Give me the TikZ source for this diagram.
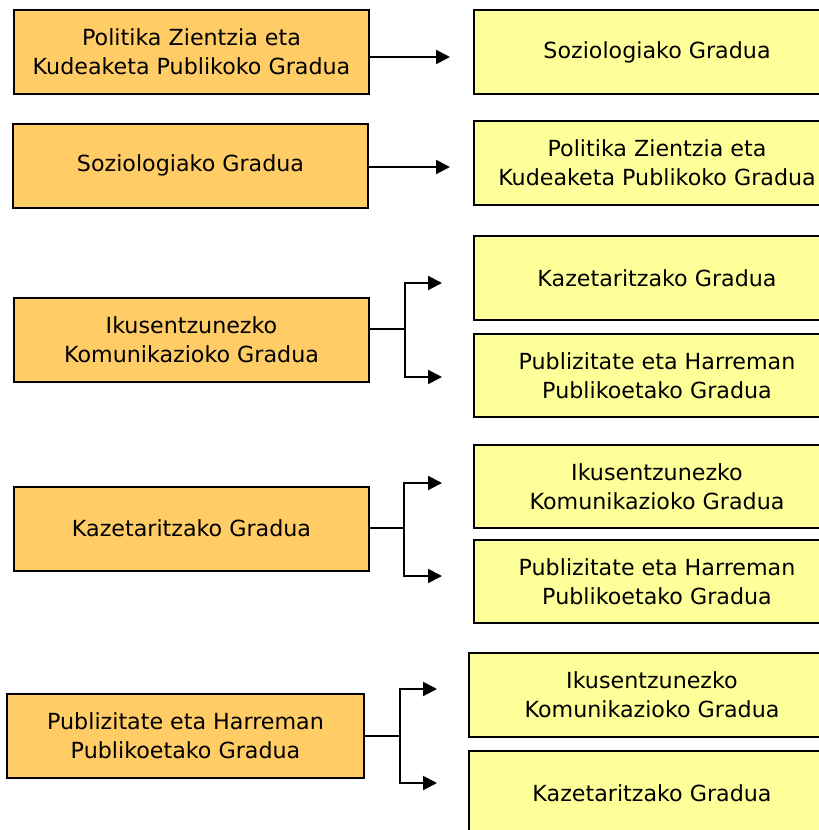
\documentclass[tikz,border=0pt]{standalone}
\usepackage{fontspec}
\setmainfont{DejaVu Sans}
\usetikzlibrary{arrows.meta}
\definecolor{orangebox}{HTML}{FFCC66}
\definecolor{yellowbox}{HTML}{FFFF99}
\tikzset{
  lbox/.style={draw=black, line width=1pt, fill=orangebox, minimum width=177.5pt, minimum height=42pt, align=center, inner sep=0pt, font=\fontsize{11.1}{14.5}\selectfont},
  rbox/.style={draw=black, line width=1pt, fill=yellowbox, minimum width=183pt, minimum height=42pt, align=center, inner sep=0pt, font=\fontsize{11.1}{14.5}\selectfont},
  conn/.style={line width=1pt, -{Triangle[length=7pt,width=7pt]}},
  stem/.style={line width=1pt}
}
\begin{document}
\begin{tikzpicture}[x=0.5pt,y=-0.5pt]
\useasboundingbox (0,0) rectangle (819,830);
\clip (0,0) rectangle (819,830);
% left boxes
\node[lbox] (L1) at (191.5,52) {Politika Zientzia eta\\Kudeaketa Publikoko Gradua};
\node[lbox] (L2) at (190.5,165.5) {Soziologiako Gradua};
\node[lbox] (L3) at (191.5,339.5) {Ikusentzunezko\\Komunikazioko Gradua};
\node[lbox] (L4) at (191.5,528.5) {Kazetaritzako Gradua};
\node[lbox, minimum width=178.5pt] (L5) at (185.5,736) {Publizitate eta Harreman\\Publikoetako Gradua};
% right boxes
\node[rbox] (R1) at (657,52) {Soziologiako Gradua};
\node[rbox] (R2) at (657,162.5) {Politika Zientzia eta\\Kudeaketa Publikoko Gradua};
\node[rbox] (R3) at (657,278) {Kazetaritzako Gradua};
\node[rbox, minimum height=41.5pt] (R4) at (657,375.5) {Publizitate eta Harreman\\Publikoetako Gradua};
\node[rbox, minimum height=41.5pt] (R5) at (657,486.5) {Ikusentzunezko\\Komunikazioko Gradua};
\node[rbox, minimum height=41.5pt] (R6) at (657,581.5) {Publizitate eta Harreman\\Publikoetako Gradua};
\node[rbox] (R7) at (652,695) {Ikusentzunezko\\Komunikazioko Gradua};
\node[rbox] (R8) at (652,793) {Kazetaritzako Gradua};
% connectors
\coordinate (t1) at (450,57);
\coordinate (t2) at (450,167);
\draw[conn] (L1.east |- t1) -- (t1);
\draw[conn] (L2.east |- t2) -- (t2);
% row 3
\coordinate (j3) at (405,329);
\coordinate (t3a) at (442,283);
\coordinate (t3b) at (442,377);
\draw[stem] (L3.east |- j3) -- (j3);
\draw[conn] (j3) |- (t3a);
\draw[conn] (j3) |- (t3b);
% row 4
\coordinate (j4) at (404,528);
\coordinate (t4a) at (442,483);
\coordinate (t4b) at (442,576);
\draw[stem] (L4.east |- j4) -- (j4);
\draw[conn] (j4) |- (t4a);
\draw[conn] (j4) |- (t4b);
% row 5
\coordinate (j5) at (400,736);
\coordinate (t5a) at (437,689);
\coordinate (t5b) at (437,783);
\draw[stem] (L5.east |- j5) -- (j5);
\draw[conn] (j5) |- (t5a);
\draw[conn] (j5) |- (t5b);
\end{tikzpicture}
\end{document}
